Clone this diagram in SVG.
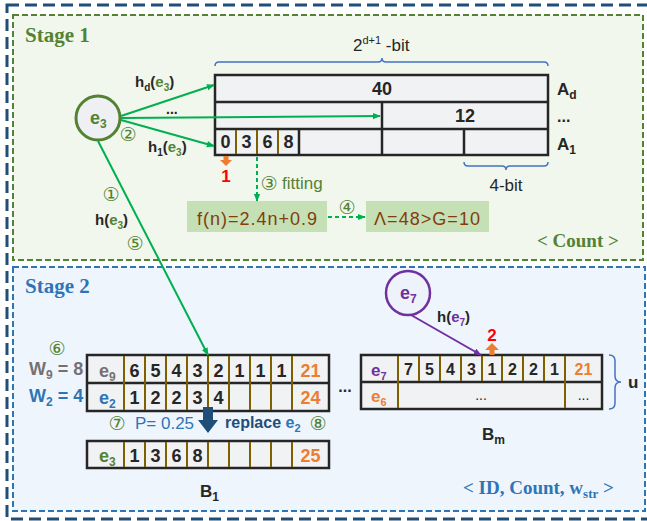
<svg xmlns="http://www.w3.org/2000/svg" width="647" height="521" viewBox="0 0 647 521">
  <style>
    .sans { font-family: "Liberation Sans", Arial, sans-serif; }
    .serif { font-family: "Liberation Serif", "Times New Roman", serif; font-weight: bold; }
    .b { font-weight: bold; }
    .num { font-family: "Liberation Sans", Arial, sans-serif; font-weight: bold; font-size: 18px; fill: #262626; text-anchor: middle; }
    .num16 { font-family: "Liberation Sans", Arial, sans-serif; font-weight: bold; font-size: 16px; fill: #262626; text-anchor: middle; }
    .cnt { fill: #ed7d31; }
    .circ { font-family: "DejaVu Sans", sans-serif; font-size: 19px; fill: #548235; text-anchor: middle; }
    .cell { fill: #f1f2f4; stroke: #262626; stroke-width: 2.5; }
    .rule { stroke: #262626; stroke-width: 2.5; }
    .sep { stroke: #7f6000; stroke-width: 2; }
    .brace { fill: none; stroke: #4472c4; stroke-width: 1.5; }
    .green { fill: #548235; }
    .blue { fill: #2e75b6; }
    .gray { fill: #767171; }
    .purple { fill: #7030a0; }
    .orange { fill: #ed7d31; }
  </style>
  <defs>
    <marker id="ag" viewBox="0 0 10 10" refX="9" refY="5" markerWidth="8" markerHeight="8" markerUnits="userSpaceOnUse" orient="auto">
      <path d="M0,1 L10,5 L0,9 z" fill="#00b050"/>
    </marker>
    <marker id="ap" viewBox="0 0 10 10" refX="9" refY="5" markerWidth="8" markerHeight="8" markerUnits="userSpaceOnUse" orient="auto">
      <path d="M0,1 L10,5 L0,9 z" fill="#7030a0"/>
    </marker>
  </defs>

  <!-- outer frame -->
  <rect x="7" y="5" width="642" height="514" fill="#ffffff" stroke="#1f4e79" stroke-width="3" stroke-dasharray="12 6"/>

  <!-- stage panels -->
  <g id="stage1">
    <rect x="13" y="15" width="630" height="245" fill="#f1f7ec" stroke="#548235" stroke-width="2" stroke-dasharray="6 3"/>
    <text x="25" y="42" class="serif green" font-size="21">Stage 1</text>
    <text x="537" y="247" class="serif green" font-size="19">&lt; Count &gt;</text>
  </g>
  <g id="stage2">
    <rect x="13" y="267" width="632" height="244" fill="#eef5fc" stroke="#2e75b6" stroke-width="2" stroke-dasharray="6 3"/>
    <text x="25" y="293" class="serif blue" font-size="21">Stage 2</text>
    <text x="463" y="494" class="serif blue" font-size="19">&lt; ID, Count, w<tspan font-size="13" dy="4">str</tspan><tspan dy="-4"> &gt;</tspan></text>
  </g>

  <!-- element e3 -->
  <g id="e3">
    <circle cx="98" cy="118" r="22" fill="#eef0f3" stroke="#548235" stroke-width="3"/>
    <text x="90" y="124" class="sans b green" font-size="18">e<tspan font-size="12" dy="4">3</tspan></text>
  </g>

  <!-- element e7 -->
  <g id="e7">
    <circle cx="408" cy="293" r="22" fill="#eef2fa" stroke="#7030a0" stroke-width="2.5"/>
    <text x="400" y="299" class="sans b purple" font-size="18">e<tspan font-size="12" dy="4">7</tspan></text>
  </g>

  <!-- sketch arrays A1..Ad -->
  <g id="arrays">
    <rect x="215" y="75" width="333" height="80" class="cell"/>
    <line x1="215" y1="102" x2="548" y2="102" class="rule"/>
    <line x1="215" y1="129" x2="548" y2="129" class="rule"/>
    <line x1="382" y1="102" x2="382" y2="155" class="rule"/>
    <line x1="464" y1="129" x2="464" y2="155" class="rule"/>
    <line x1="299" y1="129" x2="299" y2="155" class="rule"/>
    <line x1="236" y1="130" x2="236" y2="154" class="sep"/>
    <line x1="257" y1="130" x2="257" y2="154" class="sep"/>
    <line x1="278" y1="130" x2="278" y2="154" class="sep"/>
    <text x="382" y="95" class="num">40</text>
    <text x="465" y="122" class="num">12</text>
    <text x="225.5" y="148" class="num">0</text>
    <text x="246.5" y="148" class="num">3</text>
    <text x="267.5" y="148" class="num">6</text>
    <text x="288.5" y="148" class="num">8</text>
    <text x="557" y="95" class="sans b" font-size="17" fill="#262626">A<tspan font-size="12" dy="4">d</tspan></text>
    <text x="557" y="122" class="sans b" font-size="16" fill="#262626">...</text>
    <text x="557" y="150" class="sans b" font-size="17" fill="#262626">A<tspan font-size="12" dy="4">1</tspan></text>
    <!-- width braces -->
    <path d="M215,66 Q215,62 219,62 L378,62 Q382,62 382,58 Q382,62 386,62 L544,62 Q548,62 548,66" class="brace"/>
    <text x="353" y="51" class="sans" font-size="17" fill="#262626">2<tspan font-size="11" dy="-7">d+1</tspan><tspan dy="7"> -bit</tspan></text>
    <path d="M464,162 Q464,166 468,166 L502,166 Q506,166 506,170 Q506,166 510,166 L544,166 Q548,166 548,162" class="brace"/>
    <text x="506" y="191" class="sans" font-size="17" fill="#262626" text-anchor="middle">4-bit</text>
    <!-- query result -->
    <path d="M223.5,156 L228.5,156 L228.5,160 L232,160 L226,166 L220,160 L223.5,160 z" fill="#ed7d31"/>
    <text x="226" y="182" class="sans b" font-size="17" fill="#ff0000" text-anchor="middle">1</text>
  </g>

  <!-- fitting results -->
  <g id="fit">
    <rect x="187" y="201" width="140" height="31" fill="#c5e0b4"/>
    <text x="257" y="225" class="sans" font-size="18" fill="#843c0c" text-anchor="middle" textLength="120">f(n)=2.4n+0.9</text>
  </g>
  <g id="lambda">
    <rect x="366" y="201" width="123" height="31" fill="#c5e0b4"/>
    <text x="427" y="225" class="sans" font-size="18" fill="#843c0c" text-anchor="middle" textLength="106">Λ=48&gt;G=10</text>
  </g>

  <!-- bucket B1 -->
  <g id="B1">
    <rect x="87" y="355" width="242" height="56" class="cell"/>
    <line x1="87" y1="383" x2="329" y2="383" class="rule"/>
    <g class="sep">
      <line x1="124" y1="356" x2="124" y2="410"/>
      <line x1="145" y1="356" x2="145" y2="410"/>
      <line x1="166" y1="356" x2="166" y2="410"/>
      <line x1="187" y1="356" x2="187" y2="410"/>
      <line x1="208" y1="356" x2="208" y2="410"/>
      <line x1="229" y1="356" x2="229" y2="410"/>
      <line x1="250" y1="356" x2="250" y2="410"/>
      <line x1="271" y1="356" x2="271" y2="410"/>
      <line x1="292" y1="356" x2="292" y2="410"/>
    </g>
    <text x="99" y="377" class="sans b gray" font-size="18">e<tspan font-size="12" dy="4">9</tspan></text>
    <text x="134.5" y="377" class="num">6</text>
    <text x="155.5" y="377" class="num">5</text>
    <text x="176.5" y="377" class="num">4</text>
    <text x="197.5" y="377" class="num">3</text>
    <text x="218.5" y="377" class="num">2</text>
    <text x="239.5" y="377" class="num">1</text>
    <text x="260.5" y="377" class="num">1</text>
    <text x="281.5" y="377" class="num">1</text>
    <text x="310.5" y="377" class="num cnt">21</text>
    <text x="99" y="404" class="sans b blue" font-size="18">e<tspan font-size="12" dy="4">2</tspan></text>
    <text x="134.5" y="404" class="num">1</text>
    <text x="155.5" y="404" class="num">2</text>
    <text x="176.5" y="404" class="num">2</text>
    <text x="197.5" y="404" class="num">3</text>
    <text x="218.5" y="404" class="num">4</text>
    <text x="310.5" y="404" class="num cnt">24</text>

    <text x="29" y="375" class="sans b gray" font-size="18">W<tspan font-size="12" dy="4">9</tspan><tspan dy="-4"> = 8</tspan></text>
    <text x="29" y="402" class="sans b blue" font-size="18">W<tspan font-size="12" dy="4">2</tspan><tspan dy="-4"> = 4</tspan></text>
    <text x="57" y="355" class="circ">⑥</text>

    <!-- replacement -->
    <path d="M203,407 L213,407 L213,420 L218,420 L208,433 L198,420 L203,420 z" fill="#1f4e79"/>
    <text x="117" y="430" class="circ">⑦</text>
    <text x="135" y="429" class="sans blue" font-size="17">P= 0.25</text>
    <text x="225" y="428" class="sans b" font-size="16" fill="#1f4e79">replace <tspan fill="#2e75b6">e</tspan><tspan fill="#2e75b6" font-size="11" dy="4">2</tspan></text>
    <text x="318" y="430" class="circ">⑧</text>

    <rect x="87" y="441" width="242" height="27" class="cell"/>
    <g class="sep">
      <line x1="124" y1="442" x2="124" y2="467"/>
      <line x1="145" y1="442" x2="145" y2="467"/>
      <line x1="166" y1="442" x2="166" y2="467"/>
      <line x1="187" y1="442" x2="187" y2="467"/>
      <line x1="208" y1="442" x2="208" y2="467"/>
      <line x1="229" y1="442" x2="229" y2="467"/>
      <line x1="250" y1="442" x2="250" y2="467"/>
      <line x1="271" y1="442" x2="271" y2="467"/>
      <line x1="292" y1="442" x2="292" y2="467"/>
    </g>
    <text x="99" y="462" class="sans b green" font-size="18">e<tspan font-size="12" dy="4">3</tspan></text>
    <text x="134.5" y="462" class="num">1</text>
    <text x="155.5" y="462" class="num">3</text>
    <text x="176.5" y="462" class="num">6</text>
    <text x="197.5" y="462" class="num">8</text>
    <text x="310.5" y="462" class="num cnt">25</text>

    <text x="200" y="497" class="sans b" font-size="17" fill="#262626">B<tspan font-size="12" dy="4">1</tspan></text>
  </g>

  <text x="345" y="392" class="sans b" font-size="16" fill="#262626" text-anchor="middle">...</text>

  <!-- bucket Bm -->
  <g id="Bm">
    <rect x="361" y="355" width="241" height="54" class="cell"/>
    <line x1="361" y1="382" x2="602" y2="382" class="rule"/>
    <g class="sep">
      <line x1="398" y1="356" x2="398" y2="408"/>
      <line x1="419" y1="356" x2="419" y2="381"/>
      <line x1="440" y1="356" x2="440" y2="381"/>
      <line x1="461" y1="356" x2="461" y2="381"/>
      <line x1="482" y1="356" x2="482" y2="381"/>
      <line x1="502" y1="356" x2="502" y2="381"/>
      <line x1="523" y1="356" x2="523" y2="381"/>
      <line x1="544" y1="356" x2="544" y2="381"/>
      <line x1="565" y1="356" x2="565" y2="408"/>
    </g>
    <text x="371" y="376" class="sans b purple" font-size="17">e<tspan font-size="11" dy="4">7</tspan></text>
    <text x="408.5" y="375" class="num16">7</text>
    <text x="429.5" y="375" class="num16">5</text>
    <text x="450.5" y="375" class="num16">4</text>
    <text x="471.5" y="375" class="num16">3</text>
    <text x="492" y="375" class="num16">1</text>
    <text x="512.5" y="375" class="num16">2</text>
    <text x="533.5" y="375" class="num16">2</text>
    <text x="554.5" y="375" class="num16">1</text>
    <text x="583.5" y="375" class="num16 cnt">21</text>
    <text x="371" y="402" class="sans b orange" font-size="17">e<tspan font-size="11" dy="4">6</tspan></text>
    <text x="481" y="400" class="sans" font-size="14" fill="#262626" text-anchor="middle">...</text>
    <text x="583.5" y="400" class="sans" font-size="14" fill="#262626" text-anchor="middle">...</text>
    <path d="M609,355 Q615,355 615,361 L615,376 Q615,382 621,382 Q615,382 615,388 L615,403 Q615,409 609,409" class="brace"/>
    <text x="628" y="388" class="sans b" font-size="17" fill="#262626">u</text>
    <text x="482" y="440" class="sans b" font-size="17" fill="#262626">B<tspan font-size="12" dy="4">m</tspan></text>
    <!-- query result -->
    <path d="M489.5,355 L494.5,355 L494.5,350 L499,350 L492,343 L485,350 L489.5,350 z" fill="#ed7d31"/>
    <text x="492" y="341" class="sans b" font-size="17" fill="#ff0000" text-anchor="middle">2</text>
  </g>

  <!-- connectors -->
  <g id="connectors" fill="none">
    <line x1="121" y1="116" x2="214" y2="85" stroke="#00b050" stroke-width="2" marker-end="url(#ag)"/>
    <line x1="121" y1="118" x2="380" y2="116" stroke="#00b050" stroke-width="2" marker-end="url(#ag)"/>
    <line x1="121" y1="120" x2="214" y2="146" stroke="#00b050" stroke-width="2" marker-end="url(#ag)"/>
    <line x1="98" y1="141" x2="208" y2="355" stroke="#00b050" stroke-width="2" marker-end="url(#ag)"/>
    <line x1="257" y1="157" x2="257" y2="201" stroke="#00b050" stroke-width="2" stroke-dasharray="4 3" marker-end="url(#ag)"/>
    <line x1="328" y1="217" x2="365" y2="217" stroke="#00b050" stroke-width="2" stroke-dasharray="4 3" marker-end="url(#ag)"/>
    <line x1="411" y1="315" x2="481" y2="355" stroke="#7030a0" stroke-width="2" marker-end="url(#ap)"/>

    <g stroke="none">
      <text x="135" y="87" class="sans b" font-size="15" fill="#262626">h<tspan font-size="10" dy="4">d</tspan><tspan dy="-4">(</tspan><tspan class="green">e</tspan><tspan class="green" font-size="10" dy="4">3</tspan><tspan dy="-4">)</tspan></text>
      <text x="166" y="114" class="sans b" font-size="14" fill="#262626">...</text>
      <text x="128" y="141" class="circ">②</text>
      <text x="148" y="152" class="sans b" font-size="15" fill="#262626">h<tspan font-size="10" dy="4">1</tspan><tspan dy="-4">(</tspan><tspan class="green">e</tspan><tspan class="green" font-size="10" dy="4">3</tspan><tspan dy="-4">)</tspan></text>
      <text x="111" y="201" class="circ">①</text>
      <text x="95" y="225" class="sans b" font-size="15" fill="#262626">h(<tspan class="green">e</tspan><tspan class="green" font-size="10" dy="4">3</tspan><tspan dy="-4">)</tspan></text>
      <text x="135" y="250" class="circ">⑤</text>
      <text x="269" y="190" class="circ">③</text>
      <text x="282" y="189" class="sans green" font-size="17">fitting</text>
      <text x="347" y="214" class="circ">④</text>
      <text x="437" y="322" class="sans b" font-size="15" fill="#262626">h(<tspan class="purple">e</tspan><tspan class="purple" font-size="10" dy="4">7</tspan><tspan dy="-4">)</tspan></text>
    </g>
  </g>
</svg>
